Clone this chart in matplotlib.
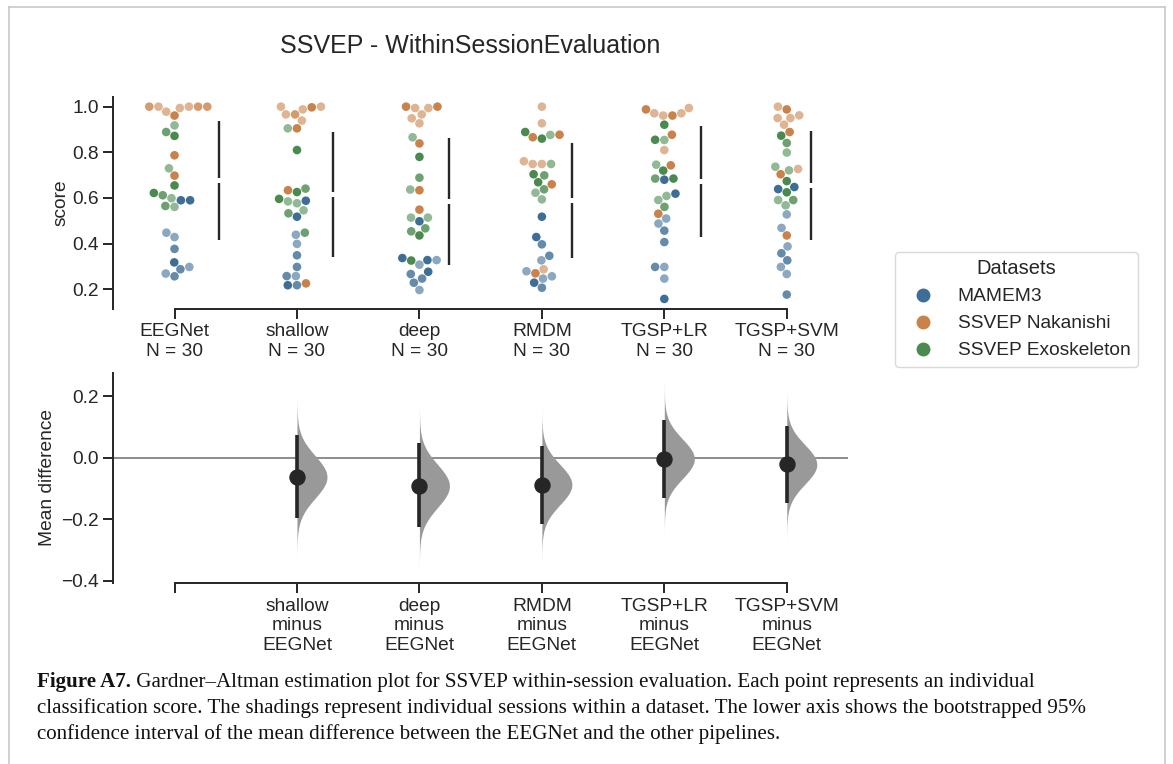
import numpy as np
import matplotlib
matplotlib.use("Agg")
import matplotlib.pyplot as plt
from matplotlib.lines import Line2D

# ---------------- data ----------------
pipelines = ["EEGNet", "shallow", "deep", "RMDM", "TGSP+LR", "TGSP+SVM"]
datasets = ["MAMEM3", "SSVEP Nakanishi", "SSVEP Exoskeleton"]
n_per_pipeline = [30, 30, 30, 30, 30, 30]

# scores per pipeline / dataset (session index: 0, 1, 2 -> shading)
eegnet_mamem3 = [0.590, 0.590, 0.448, 0.429, 0.377, 0.318, 0.298, 0.288, 0.269, 0.257]
eegnet_mamem3_sess = [0, 0, 2, 2, 1, 0, 2, 1, 2, 1]
eegnet_naka = [1.0, 1.0, 0.978, 0.994, 1.0, 1.0, 1.0, 0.961, 0.787, 0.698]
eegnet_naka_sess = [2, 2, 2, 2, 1, 1, 1, 0, 0, 0]
eegnet_exo = [0.918, 0.889, 0.872, 0.730, 0.655, 0.622, 0.612, 0.599, 0.565, 0.561]
eegnet_exo_sess = [2, 1, 0, 2, 0, 0, 1, 2, 1, 2]

shallow_mamem3 = [0.588, 0.518, 0.439, 0.399, 0.349, 0.298, 0.258, 0.258, 0.218, 0.218]
shallow_mamem3_sess = [0, 0, 2, 2, 1, 1, 2, 1, 1, 0]
shallow_naka = [1.0, 0.997, 0.988, 1.0, 0.966, 0.966, 0.939, 0.905, 0.634, 0.226]
shallow_naka_sess = [2, 0, 2, 2, 1, 2, 2, 0, 0, 0]
shallow_exo = [0.905, 0.810, 0.641, 0.626, 0.596, 0.585, 0.577, 0.546, 0.533, 0.448]
shallow_exo_sess = [2, 0, 1, 0, 0, 2, 2, 2, 1, 1]

deep_mamem3 = [0.498, 0.337, 0.308, 0.328, 0.328, 0.267, 0.277, 0.247, 0.229, 0.197]
deep_mamem3_sess = [0, 0, 2, 0, 2, 1, 0, 1, 1, 2]
deep_naka = [1.0, 0.994, 0.994, 1.0, 0.966, 0.949, 0.927, 0.839, 0.634, 0.549]
deep_naka_sess = [0, 2, 2, 0, 2, 2, 2, 0, 0, 0]
deep_exo = [0.866, 0.780, 0.689, 0.637, 0.514, 0.514, 0.467, 0.454, 0.436, 0.326]
deep_exo_sess = [2, 0, 1, 2, 2, 2, 1, 1, 0, 0]

rmdm_mamem3 = [0.518, 0.429, 0.397, 0.347, 0.327, 0.279, 0.247, 0.257, 0.229, 0.207]
rmdm_mamem3_sess = [0, 0, 1, 1, 2, 2, 2, 2, 0, 1]
rmdm_naka = [1.0, 0.927, 0.866, 0.877, 0.749, 0.749, 0.761, 0.660, 0.270, 0.288]
rmdm_naka_sess = [2, 2, 0, 0, 2, 2, 2, 0, 0, 2]
rmdm_exo = [0.889, 0.860, 0.876, 0.749, 0.704, 0.699, 0.669, 0.638, 0.623, 0.594]
rmdm_exo_sess = [0, 0, 2, 2, 0, 1, 0, 1, 2, 2]

tgsplr_mamem3 = [0.680, 0.619, 0.488, 0.510, 0.457, 0.407, 0.298, 0.298, 0.247, 0.158]
tgsplr_mamem3_sess = [0, 0, 2, 2, 1, 1, 2, 1, 2, 0]
tgsplr_naka = [0.994, 0.971, 0.961, 0.961, 0.971, 0.988, 0.877, 0.810, 0.743, 0.531]
tgsplr_naka_sess = [2, 2, 2, 0, 2, 0, 0, 2, 0, 0]
tgsplr_exo = [0.921, 0.855, 0.854, 0.746, 0.720, 0.685, 0.685, 0.591, 0.609, 0.561]
tgsplr_exo_sess = [0, 0, 2, 2, 0, 1, 0, 2, 2, 1]

tgspsvm_mamem3 = [0.639, 0.648, 0.528, 0.469, 0.388, 0.358, 0.327, 0.298, 0.267, 0.177]
tgspsvm_mamem3_sess = [0, 0, 2, 2, 2, 1, 1, 2, 2, 1]
tgspsvm_naka = [1.0, 0.988, 0.950, 0.950, 0.962, 0.921, 0.889, 0.727, 0.704, 0.436]
tgspsvm_naka_sess = [2, 0, 2, 2, 2, 2, 0, 2, 0, 0]
tgspsvm_exo = [0.873, 0.841, 0.799, 0.737, 0.721, 0.674, 0.625, 0.591, 0.591, 0.568]
tgspsvm_exo_sess = [0, 1, 2, 2, 2, 0, 0, 1, 2, 2]

# bootstrapped 95% CI of mean difference vs EEGNet
diff_ci_low = [-0.197, -0.224, -0.216, -0.130, -0.148]
diff_ci_high = [0.073, 0.049, 0.039, 0.122, 0.102]

caption_bold = "Figure A7."
caption_lines = [
    " Gardner\u2013Altman estimation plot for SSVEP within-session evaluation. Each point represents an individual",
    "classification score. The shadings represent individual sessions within a dataset. The lower axis shows the bootstrapped 95%",
    "confidence interval of the mean difference between the EEGNet and the other pipelines.",
]

# ---------------- assembly ----------------
scores = {
    "EEGNet": [(eegnet_mamem3, eegnet_mamem3_sess), (eegnet_naka, eegnet_naka_sess), (eegnet_exo, eegnet_exo_sess)],
    "shallow": [(shallow_mamem3, shallow_mamem3_sess), (shallow_naka, shallow_naka_sess), (shallow_exo, shallow_exo_sess)],
    "deep": [(deep_mamem3, deep_mamem3_sess), (deep_naka, deep_naka_sess), (deep_exo, deep_exo_sess)],
    "RMDM": [(rmdm_mamem3, rmdm_mamem3_sess), (rmdm_naka, rmdm_naka_sess), (rmdm_exo, rmdm_exo_sess)],
    "TGSP+LR": [(tgsplr_mamem3, tgsplr_mamem3_sess), (tgsplr_naka, tgsplr_naka_sess), (tgsplr_exo, tgsplr_exo_sess)],
    "TGSP+SVM": [(tgspsvm_mamem3, tgspsvm_mamem3_sess), (tgspsvm_naka, tgspsvm_naka_sess), (tgspsvm_exo, tgspsvm_exo_sess)],
}

base_colors = ["#3e6e96", "#c98249", "#4a8a4f"]
shade_mix = [0.0, 0.2, 0.4]
DARK = "#262626"


def shade(c, t):
    rgb = np.array(matplotlib.colors.to_rgb(c))
    return tuple(rgb + (1 - rgb) * t)


plt.rcParams["font.family"] = ["Liberation Sans", "DejaVu Sans"]
plt.rcParams["text.color"] = DARK
plt.rcParams["axes.labelcolor"] = DARK
plt.rcParams["xtick.color"] = DARK
plt.rcParams["ytick.color"] = DARK

W, H = 1173, 764
fig = plt.figure(figsize=(W / 100, H / 100), dpi=100)


def fig_rect(x0, y0, x1, y1):
    return [x0 / W, 1 - y1 / H, (x1 - x0) / W, (y1 - y0) / H]


ax1 = fig.add_axes(fig_rect(113.3, 97.3, 848, 308.5))
ax2 = fig.add_axes(fig_rect(113.3, 372.7, 848, 583))

FS = 13.8
positions = np.arange(len(pipelines))

for ax in (ax1, ax2):
    ax.set_xlim(-0.5, len(pipelines) - 0.5)
    for s in ("top", "right"):
        ax.spines[s].set_visible(False)
    for s in ("left", "bottom"):
        ax.spines[s].set_linewidth(1.4)
        ax.spines[s].set_color(DARK)
    ax.spines["bottom"].set_bounds(positions[0], positions[-1])
    ax.tick_params(axis="both", length=7, width=1.4, labelsize=FS, pad=3.5)

ax1.set_ylim(0.116, 1.041)
ax1.set_yticks([0.2, 0.4, 0.6, 0.8, 1.0])
ax1.set_yticklabels(["0.2", "0.4", "0.6", "0.8", "1.0"])
ax1.set_xticks(positions)
ax1.set_xticklabels([f"{p}\nN = {n}" for p, n in zip(pipelines, n_per_pipeline)], linespacing=1.2)
ax1.set_ylabel("score", fontsize=FS)
ax1.yaxis.set_label_coords(-0.060, 0.5)

fig.canvas.draw()
px_per_x = ax1.transData.transform((1, 0))[0] - ax1.transData.transform((0, 0))[0]
px_per_y = ax1.transData.transform((0, 1))[1] - ax1.transData.transform((0, 0))[1]

D = 9.2  # swarm spacing in pixels
dot_size = (8.6 * 72 / 100) ** 2


def swarm(ys_px, d):
    order = np.argsort(ys_px, kind="stable")
    px_, py_ = [], []
    xs = np.zeros(len(ys_px))
    for i in order:
        y = ys_px[i]
        cands = [0.0]
        for xj, yj in zip(px_, py_):
            dy = y - yj
            if abs(dy) < d:
                dx = np.sqrt(d * d - dy * dy)
                cands.extend([xj - dx, xj + dx])
        cands = sorted(cands, key=lambda c: (round(abs(c), 6), c))
        chosen = cands[-1]
        for c in cands:
            if all((c - xj) ** 2 + (y - yj) ** 2 >= d * d - 1e-6 for xj, yj in zip(px_, py_)):
                chosen = c
                break
        xs[i] = chosen
        px_.append(chosen)
        py_.append(y)
    return xs


means = []
for k, p in enumerate(pipelines):
    vals, cols = [], []
    for di, (v, sess) in enumerate(scores[p]):
        for val, s in zip(v, sess):
            vals.append(val)
            cols.append(shade(base_colors[di], shade_mix[s]))
    vals = np.array(vals)
    offs = swarm(vals * px_per_y, D) / px_per_x
    ax1.scatter(k + offs, vals, s=dot_size, c=cols, linewidths=0, zorder=3)
    m, sd = vals.mean(), vals.std(ddof=1)
    means.append(m)
    lx = k + offs.max() + 12 / px_per_x
    gap = 2.6 / px_per_y
    ax1.plot([lx, lx], [m + gap, m + sd], color=DARK, lw=1.7, solid_capstyle="butt", zorder=2)
    ax1.plot([lx, lx], [m - sd, m - gap], color=DARK, lw=1.7, solid_capstyle="butt", zorder=2)

# ---------------- lower axes ----------------
ax2.set_ylim(-0.407, 0.276)
ax2.set_yticks([-0.4, -0.2, 0.0, 0.2])
ax2.set_yticklabels(["\u22120.4", "\u22120.2", "0.0", "0.2"])
ax2.set_xticks(positions)
ax2.set_xticklabels([""] + [f"{p}\nminus\n{pipelines[0]}" for p in pipelines[1:]], linespacing=1.2)
ax2.set_ylabel("Mean difference", fontsize=FS)
ax2.yaxis.set_label_coords(-0.078, 0.5)
ax2.axhline(0, color="#6e6e6e", lw=1.1, zorder=1)

for j in range(1, len(pipelines)):
    md = means[j] - means[0]
    lo, hi = diff_ci_low[j - 1], diff_ci_high[j - 1]
    sd = (hi - lo) / 3.92
    yy = np.linspace(md - 3.8 * sd, md + 3.8 * sd, 300)
    dens = np.exp(-0.5 * ((yy - md) / sd) ** 2)
    w = 0.245 * dens
    ax2.fill_betweenx(yy, j, j + w, color="#999999", lw=0, zorder=2)
    ax2.plot([j, j], [lo, hi], color=DARK, lw=2.6, solid_capstyle="butt", zorder=3)
    ax2.plot([j], [md], "o", color=DARK, ms=10.8, zorder=4)

# ---------------- legend ----------------
handles = [Line2D([], [], marker="o", ls="", color=c, ms=9) for c in base_colors]
leg = fig.legend(handles, datasets, title="Datasets", loc="upper left",
                 bbox_to_anchor=(895 / W, 1 - 251.7 / H), borderaxespad=0.0,
                 fontsize=FS, title_fontsize=14.5,
                 frameon=True, fancybox=True, handletextpad=0.78, labelspacing=0.5,
                 borderpad=0.4, handlelength=2.1)
leg.get_frame().set_edgecolor("#d0d0d0")
leg.get_frame().set_linewidth(1.0)

# ---------------- title ----------------
fig.text(470 / W, 1 - 52.7 / H, "SSVEP - WithinSessionEvaluation", ha="center", va="baseline", fontsize=18)

# ---------------- caption ----------------
serif = ["Liberation Serif", "DejaVu Serif"]
renderer = fig.canvas.get_renderer()
cap_fs = 14.0
base_y = [687, 713, 739]
x0 = 37
tb = fig.text(x0 / W, 1 - base_y[0] / H, caption_bold, fontsize=cap_fs, family=serif, weight="bold",
              va="baseline", color="#111111")
t1 = fig.text(0, 1 - base_y[0] / H, caption_lines[0], fontsize=cap_fs, family=serif, va="baseline",
              color="#111111")
wb = tb.get_window_extent(renderer).width
w1 = t1.get_window_extent(renderer).width
scale = (1040 - x0) / (wb + w1)
cap_fs *= scale
tb.set_fontsize(cap_fs)
t1.set_fontsize(cap_fs)
wb = tb.get_window_extent(renderer).width
t1.set_x((x0 + wb) / W)
for ln, by in zip(caption_lines[1:], base_y[1:]):
    fig.text(x0 / W, 1 - by / H, ln, fontsize=cap_fs, family=serif, va="baseline", color="#111111")

# frame border
for xs_, ys_ in (([9, 9], [7, 764]), ([1165, 1165], [7, 764]), ([9, 1165], [7, 7])):
    fig.add_artist(Line2D(np.array(xs_) / W, 1 - np.array(ys_) / H, transform=fig.transFigure,
                          color="#c8c8c8", lw=1.2))

fig.savefig("out.png", dpi=100)
